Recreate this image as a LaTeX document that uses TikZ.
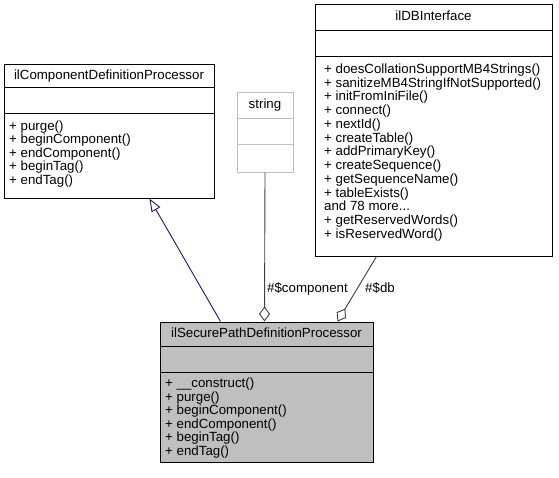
\documentclass[tikz,border=0pt]{standalone}
\usepackage{fontspec}
\setmainfont{Liberation Sans}
\usetikzlibrary{arrows.meta,calc}
\definecolor{edgeblue}{HTML}{191970}
\definecolor{edgegray}{HTML}{404040}
\definecolor{boxgray}{HTML}{BFBFBF}
\newcommand{\moretxt}{and 78 more.{}.{}.}
\begin{document}
\begin{tikzpicture}[x=1pt,y=-1pt,
  umlbox/.style={draw=black,line width=1pt,rectangle,inner sep=0pt,fill=white},
  txt/.style={inner sep=0pt,font=\fontsize{13.3}{13.6}\selectfont,text height=9.6pt,text depth=2.8pt},
  lbl/.style={txt,anchor=base west},
  conn/.style={line width=0.9pt}]
\useasboundingbox[fill=white] (0,0) rectangle (559,477);

% ilComponentDefinitionProcessor
\node[umlbox,minimum width=210pt,minimum height=134pt] (comp) at (109,131) {};
\draw[line width=1pt] ([yshift=-24pt]comp.north west) -- ([yshift=-24pt]comp.north east);
\draw[line width=1pt] ([yshift=-50pt]comp.north west) -- ([yshift=-50pt]comp.north east);
\node[txt] (comptitle) at (109,76) {ilComponentDefinitionProcessor};
\foreach \t [count=\i] in {+ purge(),+ beginComponent(),+ endComponent(),+ beginTag(),+ endTag()}
  \node[lbl] (compm\i) at (9,{130.4+(\i-1)*13.5}) {\t};

% string
\node[umlbox,draw=boxgray,minimum width=56pt,minimum height=80pt] (str) at (265,132) {};
\draw[line width=1pt,boxgray] ([yshift=-27pt]str.north west) -- ([yshift=-27pt]str.north east);
\draw[line width=1pt,boxgray] ([yshift=-53pt]str.north west) -- ([yshift=-53pt]str.north east);
\node[txt] (strtitle) at (265,105) {string};

% ilDBInterface
\node[umlbox,minimum width=237pt,minimum height=252pt] (db) at (433.5,130) {};
\draw[line width=1pt] ([yshift=-27pt]db.north west) -- ([yshift=-27pt]db.north east);
\draw[line width=1pt] ([yshift=-53pt]db.north west) -- ([yshift=-53pt]db.north east);
\node[txt] (dbtitle) at (433.5,17.5) {ilDBInterface};
\foreach \t [count=\i] in {+ doesCollationSupportMB4Strings(),+ sanitizeMB4StringIfNotSupported(),+ initFromIniFile(),+ connect(),+ nextId(),+ createTable(),+ addPrimaryKey(),+ createSequence(),+ getSequenceName(),+ tableExists(),\moretxt,+ getReservedWords(),+ isReservedWord()}
  \node[lbl] (dbm\i) at (324,{73.4+(\i-1)*13.75}) {\t};

% ilSecurePathDefinitionProcessor
\node[umlbox,fill=boxgray,minimum width=213pt,minimum height=140pt] (sec) at (266.5,392) {};
\draw[line width=1pt] ([yshift=-25pt]sec.north west) -- ([yshift=-25pt]sec.north east);
\draw[line width=1pt] ([yshift=-51pt]sec.north west) -- ([yshift=-51pt]sec.north east);
\node[txt] (sectitle) at (266.5,334.5) {ilSecurePathDefinitionProcessor};
\foreach \t [count=\i] in {+ \_\_construct(),+ purge(),+ beginComponent(),+ endComponent(),+ beginTag(),+ endTag()}
  \node[lbl] (secm\i) at (165,{387.4+(\i-1)*13.6}) {\t};

% connectors
\draw[conn,edgeblue,-{Triangle[open,length=13pt,width=10pt]}]
  ([xshift=61pt]sec.north west) -- ([xshift=146pt]comp.south west);
\draw[conn,edgegray,-{Diamond[open,length=15pt,width=11pt]}]
  (str.south) -- ([xshift=105pt]sec.north west);
\draw[conn,edgegray,-{Diamond[open,length=15pt,width=11pt]}]
  ([xshift=62pt]db.south west) -- ([xshift=178pt]sec.north west);
\node[txt] (lblcomp) at (307.5,289) {\#\$component};
\node[txt] (lbldb) at (380,289) {\#\$db};
\end{tikzpicture}
\end{document}
